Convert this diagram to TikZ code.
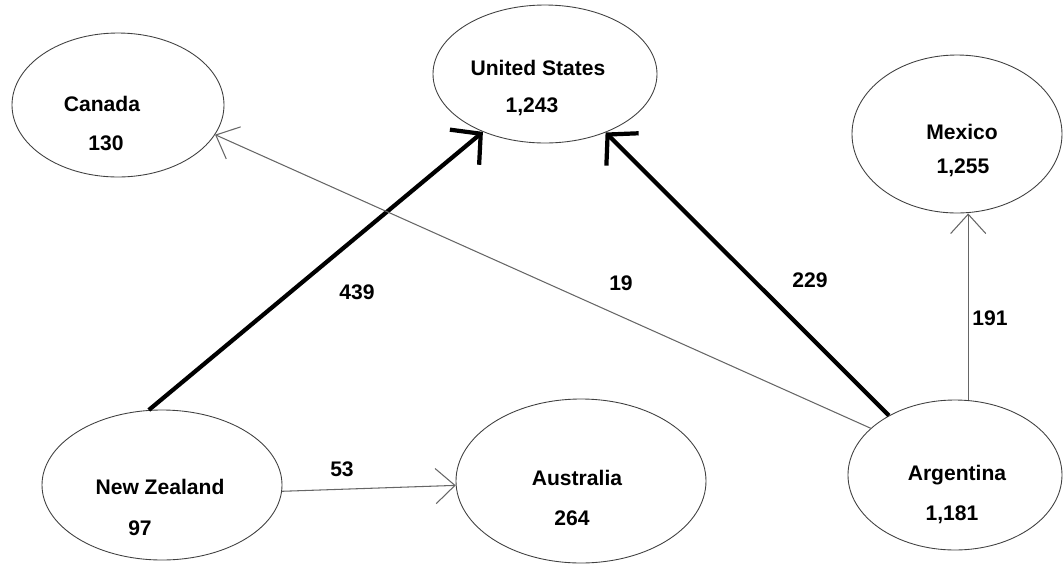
\documentclass[tikz,border=0pt]{standalone}
\usepackage{fontspec}
\setmainfont{Liberation Sans}
\usetikzlibrary{shapes.geometric}
\usetikzlibrary{arrows.meta}

\begin{document}
\begin{tikzpicture}[x=0.02cm,y=-0.02cm,
        pays/.style={draw=black!75,ellipse,line width=0.5pt,inner sep=0pt},
        txt/.style={font=\fontsize{12}{14}\selectfont\bfseries,inner sep=0pt},
        fin/.style={draw=black!60,line width=0.6pt,-{Straight Barb[length=11pt,width=20pt]}},
        gros/.style={line width=2.4pt,-{Straight Barb[length=12pt,width=26pt]}}]
    \useasboundingbox (0,0) rectangle (1063,569);
    % les ellipses
    \foreach \nom/\px/\py/\w/\h in {canada/118/105/212/144, us/545/74/224/138,
            mexico/957/134/210/158, nz/162/485/240/150,
            australia/581/481/250/164, argentina/955/475/214/150} {
        \node[pays,minimum width=\w*0.02cm,minimum height=\h*0.02cm] (\nom) at (\px,\py) {};
    }
    % noms et valeurs
    \foreach \nom/\px/\py/\t in {canada-n/102/104/Canada, canada-v/106/143/{130},
            us-n/538/68/United States, us-v/532/107/{1,243},
            mexico-n/962/132/Mexico, mexico-v/963/168/{1,255},
            nz-n/160/487/New Zealand, nz-v/140/528/{97},
            australia-n/577/478/Australia, australia-v/572/518/{264},
            argentina-n/957/475/Argentina, argentina-v/952/515/{1,181}} {
        \node[txt] (\nom) at (\px,\py) {\t};
    }
    % fleches
    \draw[gros] (nz.100.7) -- (us.223.1);
    \draw[gros] (argentina.138.7) -- (us.316.9);
    \draw[fin] (argentina.151.1) -- (canada.343.8);
    \draw[fin] (argentina.80.2) -- (mexico.south -| argentina.80.2);
    \draw[fin] (nz.357.6) -- (australia.182.3);
    % valeurs des fleches
    \foreach \nom/\px/\py/\t in {l-nzus/357/292/439, l-argca/621/283/19,
            l-argus/810/280/229, l-argmx/990/318/191, l-nzau/342/469/53} {
        \node[txt] (\nom) at (\px,\py) {\t};
    }
\end{tikzpicture}
\end{document}
